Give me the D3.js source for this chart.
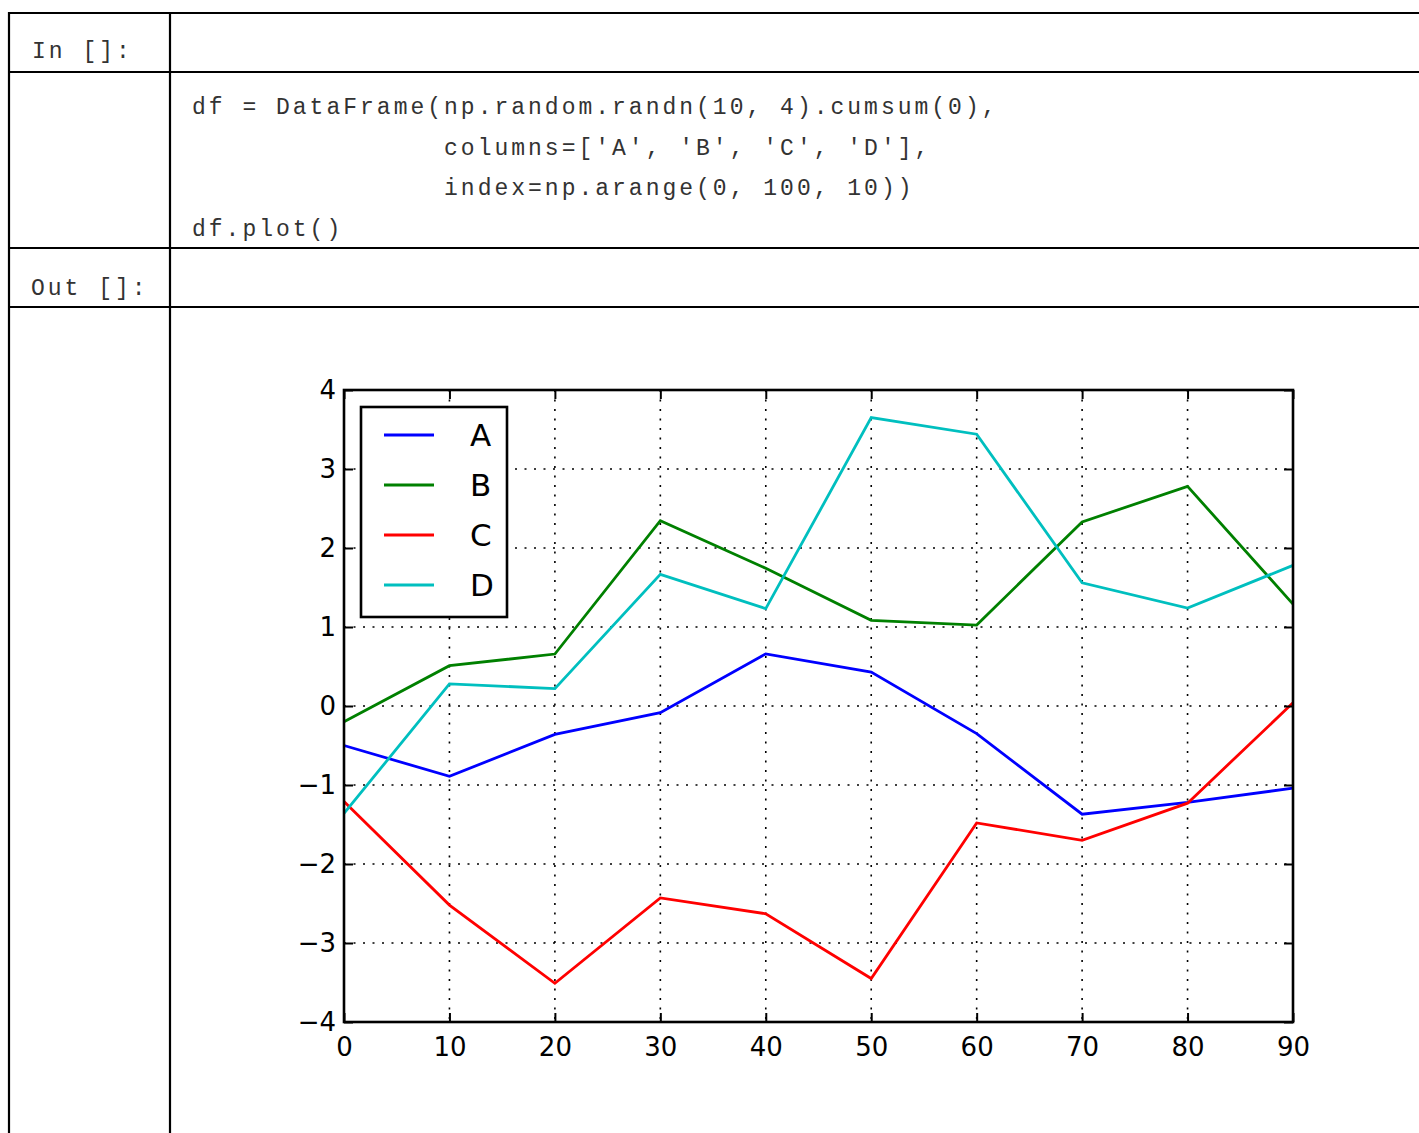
<!DOCTYPE html>
<html>
<head>
<meta charset="utf-8">
<script src="https://cdn.jsdelivr.net/npm/d3@7"></script>
<style>
  html, body { margin: 0; padding: 0; background: #fff; }
  svg { display: block; }
  .code { font-family: "Liberation Mono", "DejaVu Sans Mono", monospace; font-size: 23px; letter-spacing: 3px; fill: #333; white-space: pre; }
</style>
</head>
<body>
<svg id="page" width="1419" height="1133"></svg>
<script>
// Index of the frame and the four cumulative series
const index = [0, 10, 20, 30, 40, 50, 60, 70, 80, 90];
const seriesA = [-0.50, -0.89, -0.36, -0.085, 0.66, 0.43, -0.35, -1.37, -1.22, -1.04];
const seriesB = [-0.20, 0.51, 0.658, 2.345, 1.743, 1.085, 1.025, 2.33, 2.78, 1.29];
const seriesC = [-1.21, -2.52, -3.51, -2.43, -2.63, -3.45, -1.48, -1.70, -1.23, 0.04];
const seriesD = [-1.36, 0.28, 0.22, 1.667, 1.232, 3.65, 3.44, 1.56, 1.24, 1.78];
const seriesNames = ["A", "B", "C", "D"];
const seriesColors = ["#0000ff", "#008000", "#ff0000", "#00bfbf"];
const xTicks = [0, 10, 20, 30, 40, 50, 60, 70, 80, 90];
const yTicks = [-4, -3, -2, -1, 0, 1, 2, 3, 4];

const codeLines = [
  "df = DataFrame(np.random.randn(10, 4).cumsum(0),",
  "               columns=['A', 'B', 'C', 'D'],",
  "               index=np.arange(0, 100, 10))",
  "df.plot()"
];

const svg = d3.select("#page");
const sansFont = "'DejaVu Sans', sans-serif";

// ---- notebook cell frame ----
const frame = svg.append("g").attr("stroke", "#000").attr("stroke-width", 2.2);
[13, 72, 248, 307].forEach(yy => {
  frame.append("line").attr("x1", 8).attr("x2", 1419).attr("y1", yy).attr("y2", yy);
});
[9, 170].forEach(xx => {
  frame.append("line").attr("x1", xx).attr("x2", xx).attr("y1", 12).attr("y2", 1133);
});

svg.append("text").attr("class", "code").attr("x", 32).attr("y", 58).text("In []:");
svg.append("text").attr("class", "code").attr("x", 31).attr("y", 295)
  .attr("xml:space", "preserve").text("Out []:");

svg.append("g").selectAll("text").data(codeLines).join("text")
  .attr("class", "code")
  .attr("x", 192)
  .attr("y", (d, i) => 114 + i * 40.7)
  .attr("xml:space", "preserve")
  .text(d => d);

// ---- plot ----
const plotLeft = 344, plotRight = 1293, plotTop = 390, plotBottom = 1022;
const x = d3.scaleLinear().domain([0, 90]).range([plotLeft, plotRight]);
const y = d3.scaleLinear().domain([-4, 4]).range([plotBottom, plotTop]);

// dotted grid
const grid = svg.append("g").attr("stroke", "#000").attr("stroke-width", 1.6)
  .attr("stroke-dasharray", "2,7.5");
xTicks.slice(1, -1).forEach(t => {
  grid.append("line").attr("x1", x(t)).attr("x2", x(t)).attr("y1", plotTop).attr("y2", plotBottom);
});
yTicks.slice(1, -1).forEach(t => {
  grid.append("line").attr("x1", plotLeft).attr("x2", plotRight).attr("y1", y(t)).attr("y2", y(t));
});

// series lines
const series = [seriesA, seriesB, seriesC, seriesD];
const line = d3.line().x((d, i) => x(index[i])).y(d => y(d));
svg.append("g").selectAll("path").data(series).join("path")
  .attr("d", d => line(d))
  .attr("fill", "none")
  .attr("stroke", (d, i) => seriesColors[i])
  .attr("stroke-width", 2.8)
  .attr("stroke-linejoin", "miter");

// axes with inward ticks on all four sides
const fmt = d => (d < 0 ? "\u2212" + Math.abs(d) : String(d));
function styleAxis(g) {
  g.attr("font-family", sansFont).attr("font-size", 26);
  g.select(".domain").remove();
  g.selectAll(".tick line").attr("stroke", "#000").attr("stroke-width", 2);
  g.selectAll(".tick text").attr("fill", "#000");
}
svg.append("g").attr("transform", `translate(0,${plotBottom})`)
  .call(d3.axisBottom(x).tickValues(xTicks).tickFormat(fmt).tickSizeInner(-9).tickPadding(16))
  .call(styleAxis);
svg.append("g").attr("transform", `translate(0,${plotTop})`)
  .call(d3.axisTop(x).tickValues(xTicks).tickFormat("").tickSizeInner(-9))
  .call(styleAxis);
svg.append("g").attr("transform", `translate(${plotLeft},0)`)
  .call(d3.axisLeft(y).tickValues(yTicks).tickFormat(fmt).tickSizeInner(-9).tickPadding(8))
  .call(styleAxis);
svg.append("g").attr("transform", `translate(${plotRight},0)`)
  .call(d3.axisRight(y).tickValues(yTicks).tickFormat("").tickSizeInner(-9))
  .call(styleAxis);

// frame of the axes
svg.append("rect")
  .attr("x", plotLeft).attr("y", plotTop)
  .attr("width", plotRight - plotLeft).attr("height", plotBottom - plotTop)
  .attr("fill", "none").attr("stroke", "#000").attr("stroke-width", 2.6);

// legend
const legend = svg.append("g");
legend.append("rect").attr("x", 361).attr("y", 407).attr("width", 146).attr("height", 210)
  .attr("fill", "#fff").attr("stroke", "#000").attr("stroke-width", 2.6);
seriesNames.forEach((name, i) => {
  const ly = 435 + i * 50;
  legend.append("line").attr("x1", 384).attr("x2", 434).attr("y1", ly).attr("y2", ly)
    .attr("stroke", seriesColors[i]).attr("stroke-width", 2.8);
  legend.append("text").attr("x", 470).attr("y", ly).attr("dy", "0.36em")
    .attr("font-family", sansFont).attr("font-size", 31)
    .attr("fill", "#000").text(name);
});
</script>
</body>
</html>
